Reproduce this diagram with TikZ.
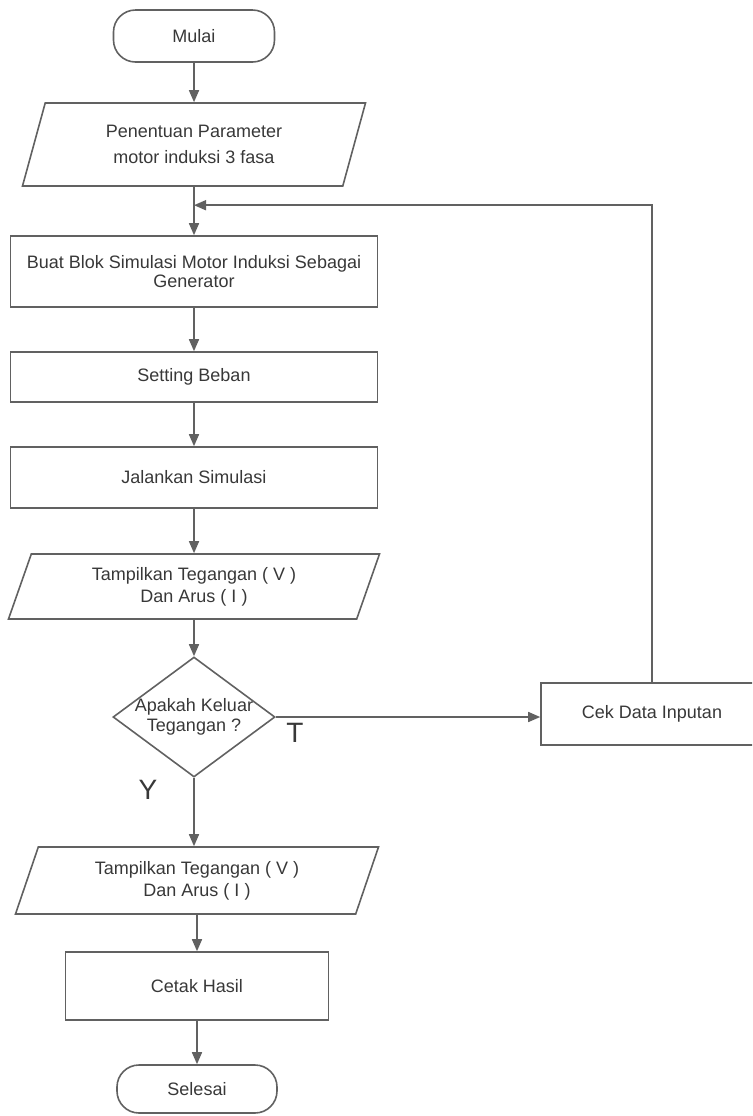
\documentclass[tikz,border=0pt]{standalone}
\usepackage{fontspec}
\setmainfont{Liberation Sans}
\usetikzlibrary{
  arrows.meta,
  shapes.geometric,
  calc,
  positioning
}
\definecolor{inkgray}{gray}{0.38}
\definecolor{textgray}{gray}{0.22}
\tikzset{
  box/.style={
    rectangle, draw=inkgray, line width=0.8pt,
    text=textgray, align=center,
    font=\fontsize{9}{11}\selectfont, inner sep=2pt
  },
  terminal/.style={box, rounded corners=11pt},
  io/.style={
    box, trapezium,
    trapezium left angle=64, trapezium right angle=116,
    trapezium stretches body
  },
  decision/.style={diamond, draw=inkgray, line width=0.8pt, inner sep=0pt},
  flow/.style={-{Triangle[length=6pt, width=5pt]}, draw=inkgray, line width=0.8pt},
  branch/.style={text=textgray, font=\fontsize{14}{16}\selectfont},
}

\begin{document}
\begin{tikzpicture}[x=0.5pt, y=-0.5pt]
\useasboundingbox (0,0) rectangle (752,1116);
\clip (0,0) rectangle (752,1116);

% --- main column ---
\node[terminal, minimum width=80.5pt, minimum height=26pt] (mulai) at (194,36) {Mulai};
\node[io, minimum width=171.5pt, minimum height=41.5pt] (param) at (194,144.5)
  {Penentuan Parameter\\[2pt]motor induksi 3 fasa};
\node[box, minimum width=183.5pt, minimum height=35.5pt] (blok) at (194,271.5)
  {Buat Blok Simulasi Motor Induksi Sebagai\\[-1.5pt]Generator};
\node[box, minimum width=183.5pt, minimum height=25pt] (beban) at (194,377) {Setting Beban};
\node[box, minimum width=183.5pt, minimum height=30.5pt] (simulasi) at (194,477.5) {Jalankan Simulasi};
\node[io, minimum width=185.5pt, minimum height=32.5pt] (tampil) at (194,586.5)
  {Tampilkan Tegangan ( V )\\Dan Arus ( I )};

% --- decision ---
\node[decision, minimum width=81pt, minimum height=60pt] (keluar) at (194,717) {};
\node[box, draw=none, inner sep=0pt] (keluartext) at (keluar) {Apakah Keluar\\[-1pt]Tegangan ?};
\node[branch] (labelT) at (295,733) {T};
\node[branch] (labelY) at (148,790) {Y};

% --- right branch ---
\node[box, minimum width=111pt, minimum height=31pt] (cekdata) at (652,714) {Cek Data Inputan};

% --- lower column ---
\node[io, minimum width=181.5pt, minimum height=33.5pt] (hasil) at (197,880.5)
  {Tampilkan Tegangan ( V )\\Dan Arus ( I )};
\node[box, minimum width=131.5pt, minimum height=34pt] (cetak) at (197,986) {Cetak Hasil};
\node[terminal, minimum width=80pt, minimum height=24pt] (selesai) at (197,1089) {Selesai};

\coordinate (join) at ($(param.south)!0.38!(blok.north)$);

% --- connectors ---
\draw[flow] (mulai) -- (param);
\draw[flow] (param) -- (blok);
\draw[flow] (blok) -- (beban);
\draw[flow] (beban) -- (simulasi);
\draw[flow] (simulasi) -- (tampil);
\draw[flow] (tampil) -- (keluar);
\draw[flow] (keluar.south) -- (keluar.south |- hasil.north);
\draw[flow] (hasil) -- (cetak);
\draw[flow] (cetak) -- (selesai);
\draw[flow] (keluar.east) -- (keluar.east -| cekdata.west);
\draw[flow] (cekdata.north) |- (join);

\end{tikzpicture}
\end{document}
